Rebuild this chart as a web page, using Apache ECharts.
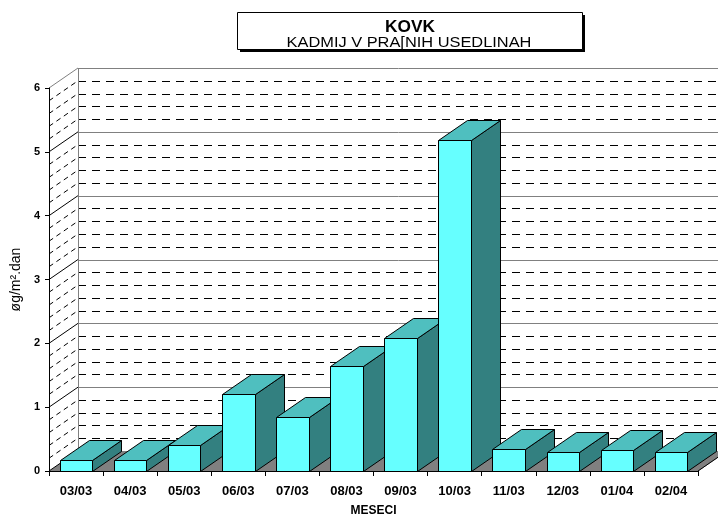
<!DOCTYPE html>
<html>
<head>
<meta charset="utf-8">
<script src="https://cdn.jsdelivr.net/npm/echarts@6/dist/echarts.min.js"></script>
<style>
  html, body { margin: 0; padding: 0; background: #ffffff; }
  #chart { width: 718px; height: 519px; }
</style>
</head>
<body>
<div id="chart"></div>
<script>
// Monthly cadmium deposition at station KOVK
const months = ['03/03', '04/03', '05/03', '06/03', '07/03', '08/03',
                '09/03', '10/03', '11/03', '12/03', '01/04', '02/04'];
const cadmium = [0.18, 0.18, 0.41, 1.20, 0.85, 1.64, 2.09, 5.18, 0.35, 0.29, 0.33, 0.29];
const yMin = 0;
const yMax = 6;
const yStep = 1;
const minorPerStep = 5;

const titleMain = 'KOVK';
const titleSub = 'KADMIJ V PRA[NIH USEDLINAH';
const xName = 'MESECI';
const yName = 'øg/m².dan';

// pseudo-3D depth offset
const DX = 29, DY = -20;
const BAR_RATIO = 0.6;
const FONT = '"Liberation Sans", Arial, sans-serif';

const crisp = v => Math.round(v) + 0.5;

function renderWalls(params, api) {
  const bw = api.size([1, 0])[0];
  const first = api.coord([0, yMin]);
  const last = api.coord([months.length - 1, yMin]);
  const xL = first[0] - bw / 2;
  const xR = last[0] + bw / 2;
  const y0 = first[1];
  const yTop = api.coord([0, yMax])[1];
  const kids = [];
  // floor
  kids.push({ type: 'polygon', shape: { points: [[xL, y0], [xR, y0], [xR + DX, y0 + DY], [xL + DX, y0 + DY]] },
              style: { fill: '#808080', stroke: '#808080', lineWidth: 1 } });
  // side wall
  kids.push({ type: 'polygon', shape: { points: [[xL, y0], [xL + DX, y0 + DY], [xL + DX, yTop + DY], [xL, yTop]] },
              style: { fill: '#ffffff' } });
  // back wall
  kids.push({ type: 'rect', shape: { x: xL + DX, y: yTop + DY, width: xR - xL + 40, height: y0 - yTop },
              style: { fill: '#ffffff' } });
  const n = (yMax - yMin) / yStep * minorPerStep;
  for (let k = 1; k <= n; k++) {
    const v = yMin + k * yStep / minorPerStep;
    const y = api.coord([0, v])[1];
    const major = k % minorPerStep === 0;
    const topEdge = k === n;
    kids.push({ type: 'line',
      shape: { x1: xL, y1: y, x2: xL + DX, y2: y + DY },
      style: { stroke: topEdge ? '#808080' : '#000000', lineWidth: 1, lineDash: major ? null : [5, 4] } });
    const yb = crisp(y + DY);
    kids.push({ type: 'line',
      shape: { x1: xL + DX, y1: yb, x2: xR + DX + 40, y2: yb },
      style: { stroke: major ? '#808080' : '#000000', lineWidth: 1, lineDash: major ? null : [8, 6] } });
  }
  // wall edges
  kids.push({ type: 'line', shape: { x1: crisp(xL + DX), y1: yTop + DY, x2: crisp(xL + DX), y2: y0 + DY },
              style: { stroke: '#808080', lineWidth: 1 } });
  kids.push({ type: 'line', shape: { x1: xL, y1: y0, x2: xL + DX, y2: y0 + DY },
              style: { stroke: '#000000', lineWidth: 1 } });
  kids.push({ type: 'line', shape: { x1: xR, y1: y0, x2: xR + DX, y2: y0 + DY },
              style: { stroke: '#000000', lineWidth: 1 } });
  return { type: 'group', children: kids };
}

function renderBar(params, api) {
  const i = api.value(0);
  const v = api.value(1);
  const base = api.coord([i, yMin]);
  const top = api.coord([i, v]);
  const w = api.size([1, 0])[0] * BAR_RATIO;
  const x1 = Math.round(base[0] - w / 2) + 0.5;
  const x2 = Math.round(base[0] + w / 2) + 0.5;
  const yb = Math.round(base[1]) + 0.5;
  const yt = Math.round(top[1]) + 0.5;
  const edge = { stroke: '#000000', lineWidth: 1, lineJoin: 'miter' };
  return {
    type: 'group',
    children: [
      { type: 'polygon', shape: { points: [[x2, yt], [x2 + DX, yt + DY], [x2 + DX, yb + DY], [x2, yb]] },
        style: Object.assign({ fill: '#338080' }, edge) },
      { type: 'polygon', shape: { points: [[x1, yt], [x2, yt], [x2 + DX, yt + DY], [x1 + DX, yt + DY]] },
        style: Object.assign({ fill: '#4fbfbf' }, edge) },
      { type: 'rect', shape: { x: x1, y: yt, width: x2 - x1, height: yb - yt },
        style: Object.assign({ fill: '#66ffff' }, edge) }
    ]
  };
}

const chart = echarts.init(document.getElementById('chart'), null, { renderer: 'canvas' });

chart.setOption({
  animation: false,
  backgroundColor: '#ffffff',
  grid: { left: 49, right: 20, top: 88, bottom: 48, containLabel: false, outerBoundsMode: 'none' },
  xAxis: {
    type: 'category',
    data: months,
    z: 10,
    name: xName,
    nameLocation: 'middle',
    nameGap: 34,
    nameTextStyle: { fontFamily: FONT, fontWeight: 'bold', fontSize: 12, color: '#000' },
    axisLine: { lineStyle: { color: '#000', width: 1 } },
    axisTick: { show: true, length: 5, lineStyle: { color: '#000' } },
    axisLabel: { fontFamily: FONT, fontWeight: 'bold', fontSize: 13, color: '#000', margin: 14 },
    splitLine: { show: false }
  },
  yAxis: {
    type: 'value',
    min: yMin,
    max: yMax,
    interval: yStep,
    z: 10,
    name: yName,
    nameLocation: 'middle',
    nameGap: 26,
    nameRotate: 90,
    nameTextStyle: { fontFamily: FONT, fontSize: 14, color: '#000' },
    axisLine: { show: true, lineStyle: { color: '#000', width: 1 } },
    axisTick: { show: true, length: 4, lineStyle: { color: '#000' } },
    axisLabel: { fontFamily: FONT, fontWeight: 'bold', fontSize: 11, color: '#000', margin: 9 },
    splitLine: { show: false }
  },
  graphic: [
    { type: 'rect', shape: { x: 240, y: 15, width: 345, height: 37 }, style: { fill: '#000' }, z: 20 },
    { type: 'rect', shape: { x: 237.5, y: 12.5, width: 345, height: 37 }, style: { fill: '#fff', stroke: '#000', lineWidth: 1 }, z: 21 },
    { type: 'text', x: 410, y: 28, scaleX: 1.08, z: 22,
      style: { text: titleMain, fontFamily: FONT, fontWeight: 'bold', fontSize: 16, fill: '#000', align: 'center', verticalAlign: 'middle' } },
    { type: 'text', x: 409, y: 43, scaleX: 1.17, z: 22,
      style: { text: titleSub, fontFamily: FONT, fontSize: 14, fill: '#000', align: 'center', verticalAlign: 'middle' } }
  ],
  series: [
    {
      type: 'custom',
      name: 'walls',
      z: 1,
      silent: true,
      clip: false,
      renderItem: renderWalls,
      data: [[0, 0]],
      encode: { x: 0, y: 1 }
    },
    {
      type: 'custom',
      name: 'Cd',
      z: 2,
      clip: false,
      renderItem: renderBar,
      data: months.map((m, i) => [i, cadmium[i]]),
      encode: { x: 0, y: 1 }
    }
  ]
});
</script>
</body>
</html>
